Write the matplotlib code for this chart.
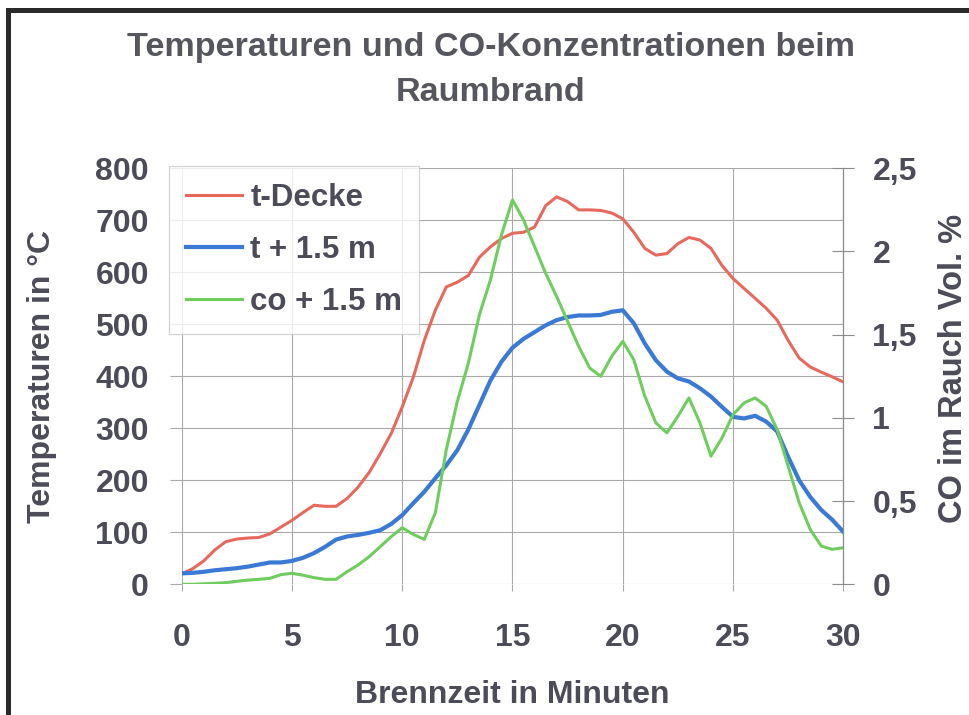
import numpy as np
import matplotlib
matplotlib.use("Agg")
import matplotlib.pyplot as plt
from matplotlib.lines import Line2D
from matplotlib.ticker import FuncFormatter

plt.rcParams['font.family'] = ['Liberation Sans', 'DejaVu Sans']
plt.rcParams['font.weight'] = 'bold'
plt.rcParams['axes.labelweight'] = 'bold'

# --- data (every 0.5 min) ---
minutes = np.arange(0, 30.5, 0.5)

t_decke = [20, 30, 45, 66, 82, 87, 89, 90, 97, 110,
           123, 138, 152, 150, 150, 165, 187, 215, 251, 290,
           341, 398, 469, 527, 572, 581, 594, 629, 649, 665,
           675, 677, 687, 728, 745, 736, 720, 720, 719, 714,
           703, 677, 646, 633, 636, 655, 667, 662, 646, 613,
           588, 569, 550, 531, 508, 469, 435, 418, 408, 399,
           389]

t_15m = [21, 22, 24, 27, 29, 31, 34, 38, 42, 42,
         45, 51, 60, 72, 86, 92, 95, 99, 104, 116,
         133, 156, 178, 204, 229, 258, 298, 345, 392, 428,
         455, 472, 485, 498, 508, 514, 517, 517, 518, 524,
         527, 502, 463, 431, 409, 396, 390, 377, 361, 341,
         322, 319, 324, 313, 294, 245, 200, 168, 143, 124,
         101]

co_15m = [0.0, 0.0, 0.003, 0.006, 0.01, 0.018, 0.025, 0.03, 0.036, 0.058,
          0.066, 0.055, 0.04, 0.03, 0.03, 0.076, 0.116, 0.166, 0.226, 0.286,
          0.34, 0.30, 0.27, 0.43, 0.81, 1.10, 1.33, 1.62, 1.83, 2.10,
          2.31, 2.19, 2.03, 1.87, 1.73, 1.58, 1.43, 1.30, 1.25, 1.37,
          1.46, 1.35, 1.13, 0.97, 0.91, 1.01, 1.12, 0.97, 0.77, 0.88,
          1.02, 1.09, 1.12, 1.07, 0.93, 0.71, 0.49, 0.33, 0.23, 0.21,
          0.22]

x_ticks = [0, 5, 10, 15, 20, 25, 30]
temp_ticks = [0, 100, 200, 300, 400, 500, 600, 700, 800]
co_ticks = [0, 0.5, 1, 1.5, 2, 2.5]

# --- styles ---
c_red = '#e7695e'
c_blue = '#3a79d4'
c_green = '#6fcd5e'
c_text = '#4b4c58'
c_grid = '#a9a9a9'

W, H = 970, 715
fig = plt.figure(figsize=(W / 100, H / 100), dpi=100)
fig.patch.set_facecolor('white')

ax = fig.add_axes([181.7 / W, 1 - 584.3 / H, 661.6 / W, 416 / H])
ax2 = ax.twinx()

ax.plot(minutes, t_decke, color=c_red, lw=2.2, label='t-Decke')
ax.plot(minutes, t_15m, color=c_blue, lw=3.0, label='t + 1.5 m')
ax2.plot(minutes, co_15m, color=c_green, lw=2.2, label='co + 1.5 m')

ax.set_xlim(0, 30)
ax.set_ylim(0, 800)
ax2.set_ylim(0, 2.5)

ax.set_xticks(x_ticks)
ax.set_yticks(temp_ticks)
ax2.set_yticks(co_ticks)
ax2.yaxis.set_major_formatter(FuncFormatter(lambda v, p: f'{v:g}'.replace('.', ',')))

ax.grid(True, color=c_grid, lw=0.8)
for a in (ax, ax2):
    for s in a.spines.values():
        s.set_visible(False)
ax2.spines['right'].set_visible(True)
ax2.spines['right'].set_color('#8c8c8c')
ax2.spines['right'].set_linewidth(0.9)

ax.tick_params(axis='y', length=8.6, width=0.8, color=c_grid, pad=15,
               labelsize=23, labelcolor=c_text)
ax.tick_params(axis='x', length=5, width=0.8, color=c_grid, pad=23,
               labelsize=23, labelcolor=c_text)
ax2.tick_params(axis='y', direction='inout', length=16, width=0.8, color='#8c8c8c',
                pad=13, labelsize=23, labelcolor=c_text)

ax.set_xlabel('Brennzeit in Minuten', fontsize=23, color=c_text, va='center')
ax.xaxis.set_label_coords(0.499, (584.3 - 695) / 416)
ax.set_ylabel('Temperaturen in °C', fontsize=23, color=c_text, va='center')
ax.yaxis.set_label_coords((42 - 181.7) / 661.6, 0.5)
ax2.set_ylabel('CO im Rauch Vol. %', fontsize=23.5, color=c_text, rotation=90, va='center')
ax2.yaxis.set_label_coords((954 - 181.7) / 661.6, 0.518)

fig.text(0.506, 1 - 70 / H, 'Temperaturen und CO-Konzentrationen beim\nRaumbrand',
         ha='center', va='center', fontsize=24.6, color='#55565e', linespacing=1.55)

h1, l1 = ax.get_legend_handles_labels()
h2, l2 = ax2.get_legend_handles_labels()
leg = ax2.legend(h1 + h2, l1 + l2, loc='upper left',
                 bbox_to_anchor=(169 / W, 1 - 166 / H), bbox_transform=fig.transFigure,
                 fontsize=22.5, frameon=True, fancybox=False, borderpad=0.55,
                 labelspacing=0.7, handlelength=1.8, handletextpad=0.25, borderaxespad=0)
leg.get_frame().set_edgecolor('#c8c8c8')
leg.get_frame().set_linewidth(0.9)
for t in leg.get_texts():
    t.set_color(c_text)

# outer frame (only left and top edges are visible in the scan)
fig.add_artist(Line2D([8 / W, 8 / W], [-0.05, 1 - 10 / H], transform=fig.transFigure,
                      color='#2a2a2a', lw=3.6))
fig.add_artist(Line2D([8 / W, 1.05], [1 - 10 / H, 1 - 10 / H], transform=fig.transFigure,
                      color='#2a2a2a', lw=3.6))

fig.savefig('out.png', dpi=100)
